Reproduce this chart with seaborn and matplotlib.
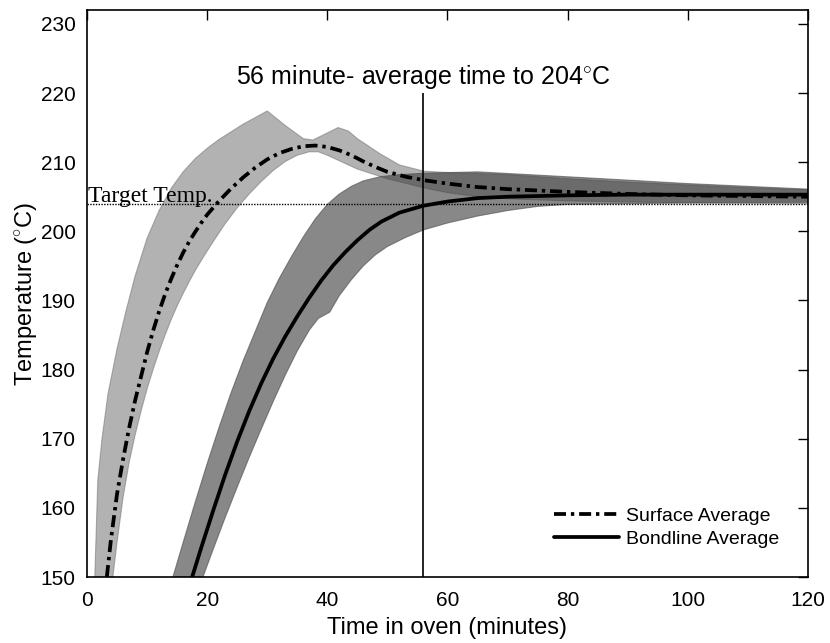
"""
    Oven cure curves: surface vs bondline temperature
    - shaded bands = range of thermocouples
    - lines = averages
"""

import seaborn as sns
import pandas as pd
import matplotlib.pyplot as plt

# ---- data ----
surf_t = [3.3, 4, 5, 6, 7, 8, 9, 10, 11, 12, 13, 14, 15, 16, 17, 18, 19, 20, 22, 24, 26,
          28, 30, 32, 34, 36, 38, 40, 42, 44, 46, 48, 50, 53, 56, 60, 65, 70, 80, 90, 100,
          110, 120]
surf_avg = [150, 155.5, 162, 167, 171.5, 175.5, 179, 182.5, 185.6, 188.4, 190.9, 193.1,
            195.1, 196.9, 198.5, 199.9, 201.2, 202.4, 204.4, 206.2, 207.8, 209.2, 210.4,
            211.3, 211.9, 212.3, 212.4, 212.2, 211.7, 211, 210.1, 209.3, 208.6, 207.9,
            207.4, 206.9, 206.4, 206.1, 205.7, 205.4, 205.2, 205.1, 205.0]

surf_hi_t = [1.3, 1.8, 2.5, 3.5, 5, 6.5, 8, 10, 12, 14, 16, 18, 20, 22, 26, 30, 33, 36,
             37.6, 39, 41.8, 43.5, 45, 48.8, 52, 56, 60, 70, 80, 90, 100, 110, 120]
surf_hi = [150, 164, 170, 176.5, 183, 188.5, 193.5, 199, 203, 206.2, 208.6, 210.5, 212,
           213.3, 215.5, 217.4, 215.3, 213.4, 213.2, 213.8, 215.0, 214.5, 213.4, 211.2,
           209.6, 208.7, 208.5, 208.2, 207.6, 207.1, 206.7, 206.3, 206.0]

surf_lo_t = [4.3, 5, 6, 7, 8, 9, 10, 11, 12, 13, 14, 15, 16, 17, 18, 19.6, 21, 23, 25, 27,
             29, 31, 33, 35, 37, 38.5, 40, 42, 45, 50, 56, 60, 65, 70, 80, 100, 120]
surf_lo = [150, 155, 161.5, 166.5, 170.5, 174, 177.2, 180, 182.6, 185, 187.2, 189.2, 191,
           192.7, 194.3, 196.6, 198.5, 201.1, 203.4, 205.4, 207.2, 208.8, 210.1, 211,
           211.5, 211.5, 211, 210.2, 209, 207.6, 206.3, 205.6, 205, 204.7, 204.4, 204.1,
           204.0]

bond_t = [17.5, 19, 21, 23, 25, 27, 29, 31, 33, 35, 37, 39, 41, 43, 45, 47, 49, 52, 56,
          60, 65, 70, 80, 90, 120]
bond_avg = [150, 154.2, 159.6, 164.8, 169.6, 174, 178, 181.6, 184.8, 187.7, 190.4, 192.9,
            195.1, 197, 198.7, 200.2, 201.4, 202.7, 203.7, 204.3, 204.8, 205.0, 205.2,
            205.3, 205.3]

bond_hi_t = [14.3, 16, 18, 20, 22, 24, 26, 28, 30, 32, 34, 36, 38, 40, 42, 44, 46, 48.8,
             52, 56, 65, 77.6, 90, 100, 120]
bond_hi = [150, 155, 160.8, 166.4, 171.7, 176.7, 181.3, 185.5, 189.7, 193.2, 196.3, 199.2,
           201.8, 203.9, 205.4, 206.5, 207.3, 207.9, 208.2, 208.4, 208.6, 208.0, 207.4,
           206.9, 206.1]

bond_lo_t = [19.3, 21, 23, 25, 27, 29, 31, 33, 35, 37, 38.5, 40.4, 42, 44, 46, 48, 50, 53,
             56, 60, 65, 70, 75, 80, 100, 120]
bond_lo = [150, 154, 158.6, 163, 167.3, 171.4, 175.4, 179.2, 182.7, 185.7, 187.4, 188.3,
           190.7, 193, 195, 196.6, 197.8, 199.1, 200.2, 201.2, 202.2, 203, 203.6, 203.9,
           204.1, 204.2]

target_temp = 204
avg_time = 56

sns.set_style('white')
plt.rcParams['font.family'] = ['Liberation Sans', 'DejaVu Sans']
plt.rcParams['mathtext.fontset'] = 'custom'
plt.rcParams['mathtext.rm'] = 'Liberation Sans'
plt.rcParams['text.color'] = 'k'
plt.rcParams['axes.labelcolor'] = 'k'

surf_df = pd.DataFrame({'t': surf_t, 'T': surf_avg})
bond_df = pd.DataFrame({'t': bond_t, 'T': bond_avg})

fig = plt.figure(figsize=(8.3, 6.43), dpi=100)
ax = fig.add_axes([0.1048, 0.1026, 0.8687, 0.8818])

# range bands (polygon: upper edge then lower edge reversed)
ax.fill(surf_hi_t + surf_lo_t[::-1], surf_hi + surf_lo[::-1],
        facecolor='0.45', alpha=0.55, edgecolor='0.45', lw=0.8, zorder=1)
ax.fill(bond_hi_t + bond_lo_t[::-1], bond_hi + bond_lo[::-1],
        facecolor='0.25', alpha=0.62, edgecolor='0.3', lw=0.8, zorder=2)

# target temperature + average time markers
ax.axhline(target_temp, color='k', lw=1.0, ls=(0, (1, 1)), zorder=3)
ax.vlines(avg_time, 150, 220, color='k', lw=1.2, zorder=3)

sns.lineplot(data=surf_df, x='t', y='T', ax=ax, color='k', lw=2.7,
             linestyle=(0, (3.2, 1.3, 0.9, 1.3)), label='Surface Average', zorder=4)
sns.lineplot(data=bond_df, x='t', y='T', ax=ax, color='k', lw=2.7,
             label='Bondline Average', zorder=4)

ax.text(avg_time, 221.3, r'56 minute- average time to 204$^{\circ}$C',
        ha='center', va='baseline', fontsize=18)
ax.text(0.2, 204.3, 'Target Temp.', ha='left', va='baseline',
        fontsize=17, family=['Liberation Serif', 'DejaVu Serif'])

ax.set_xlim(0, 120)
ax.set_ylim(150, 232)
ax.set_xticks(range(0, 121, 20))
ax.set_yticks(range(150, 231, 10))
ax.tick_params(direction='in', top=True, right=True, length=7, width=1,
               labelsize=15, colors='k')
ax.tick_params(axis='x', pad=10)
ax.tick_params(axis='y', pad=8)
for s in ax.spines.values():
    s.set_color('k')
    s.set_linewidth(1.2)

ax.set_xlabel('Time in oven (minutes)', fontsize=17, labelpad=5)
ax.set_ylabel(r'Temperature ($^{\circ}$C)', fontsize=17, labelpad=0)

ax.legend(loc='lower right', bbox_to_anchor=(0.985, 0.02), frameon=False,
          fontsize=14, handlelength=3.3, handletextpad=0.4, labelspacing=0.3)

fig.savefig('out.png', dpi=100)
